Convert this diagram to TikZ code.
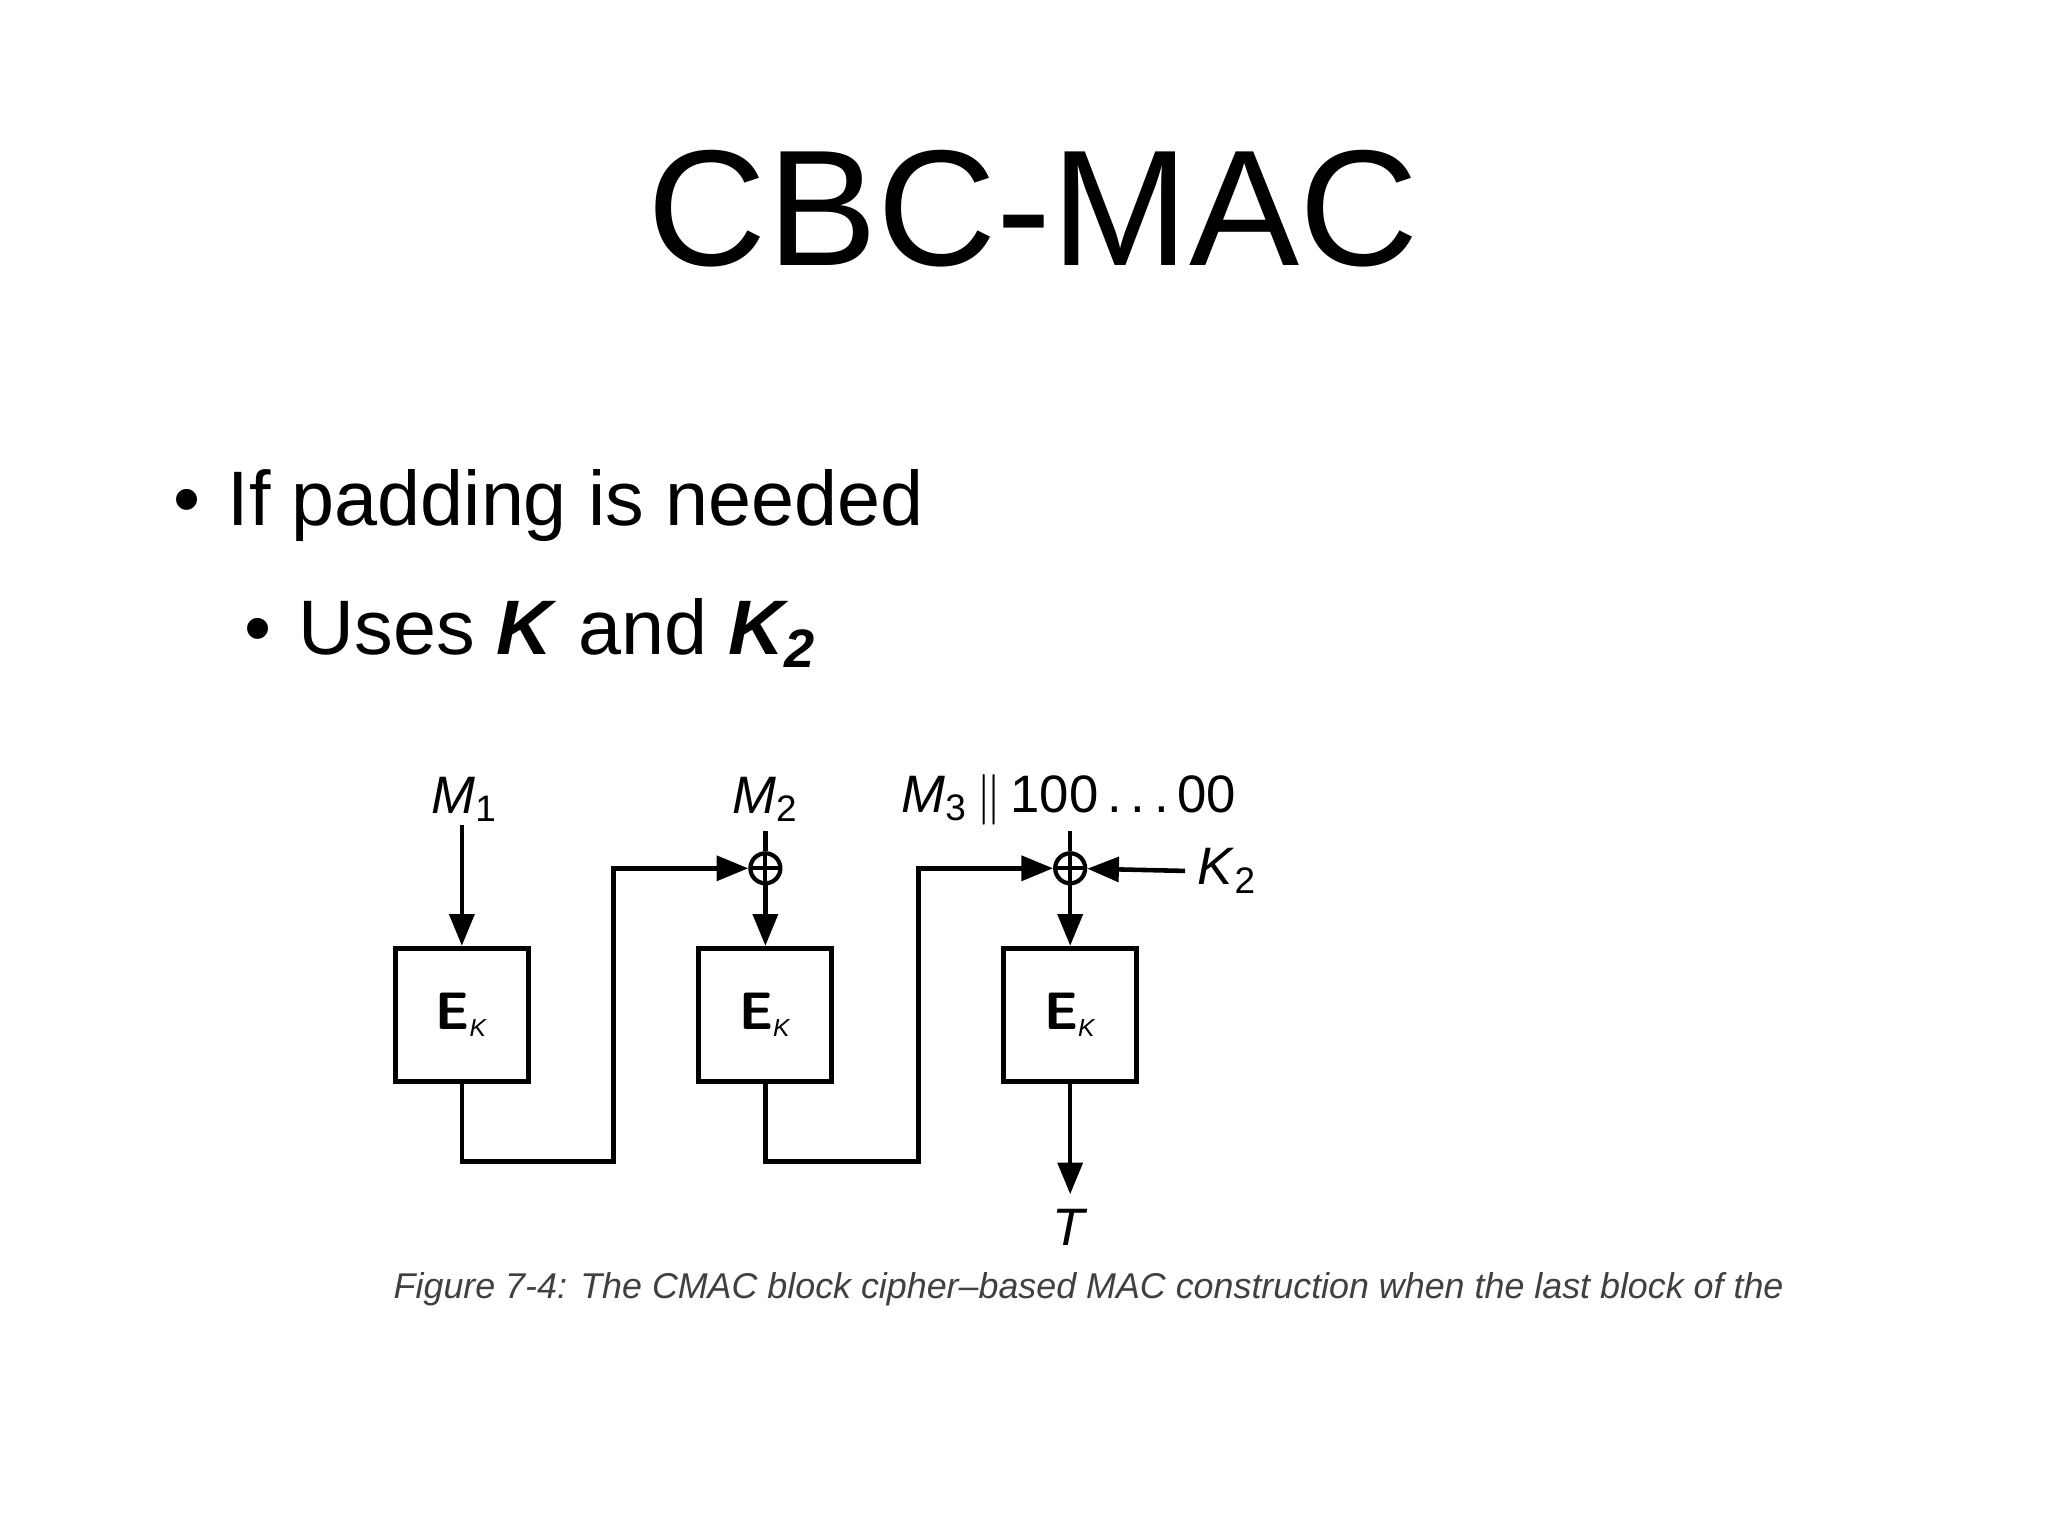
\documentclass[tikz,border=0pt]{standalone}
\usepackage{fontspec}
\setmainfont{Liberation Sans}
\usetikzlibrary{arrows.meta}
\begin{document}
\begin{tikzpicture}[x=0.013196cm,y=-0.013196cm,
  blk/.style={draw,line width=1.4pt,minimum size=1.33cm,inner sep=0pt,font=\sffamily\bfseries\fontsize{15}{15}\selectfont},
  ln/.style={line width=1.3pt},
  ar/.style={ln,-{Triangle[length=9pt,width=7pt]}},
  xo/.style={draw,circle,line width=1.2pt,minimum size=0.3cm,inner sep=0pt,path picture={\draw[line width=1.2pt] (path picture bounding box.north)--(path picture bounding box.south) (path picture bounding box.west)--(path picture bounding box.east);}},
  lab/.style={font=\fontsize{15}{15}\selectfont}]
\useasboundingbox (0,0) rectangle (1552,1164);
\node[font=\fontsize{47}{47}\selectfont] (title) at (783,158) {CBC-MAC};
\node[anchor=base west,font=\fontsize{22}{22}\selectfont] (b1) at (122,398) {\textbullet\hspace{0.35em}If padding is needed};
\node[anchor=base west,font=\fontsize{22}{22}\selectfont] (b2) at (176,496) {\textbullet\hspace{0.35em}Uses \textbf{\textit{K}} and \textbf{\textit{K\textsubscript{2}}}};
\node[blk] (e1) at (350,769) {E\textsubscript{\normalfont\itshape\scriptsize K}};
\node[blk] (e2) at (580,769) {E\textsubscript{\normalfont\itshape\scriptsize K}};
\node[blk] (e3) at (811,769) {E\textsubscript{\normalfont\itshape\scriptsize K}};
\node[lab] (m1) at (352,606) {\textit{M}\textsubscript{1}};
\node[lab] (m2) at (580,606) {\textit{M}\textsubscript{2}};
\node[lab] (m3) at (810,606) {\textit{M}\textsubscript{3}\,$\|$\,100\,.\,.\,.\,00};
\node[xo] (x2) at (580,658) {};
\node[xo] (x3) at (811,658) {};
\node[lab] (k2) at (930,660) {\textit{K}\textsubscript{2}};
\node[lab] (t) at (811,930) {\textit{T}};
\coordinate (o3) at (811,905);
\coordinate (i1) at (350,625);
\draw[ar] (i1) -- (e1);
\draw[ln] (x2.north) -- ++(0,-15);
\draw[ar] (x2) -- (e2);
\draw[ln] (x3.north) -- ++(0,-15);
\draw[ar] (x3) -- (e3);
\draw[ar] (k2.west) -- (x3);
\draw[ar] (e1.south) |- (465,880) |- (x2);
\draw[ar] (e2.south) |- (696,880) |- (x3);
\draw[ar] (e3) -- (o3);
\node[text=black!75,font=\itshape\fontsize{10.2}{11}\selectfont] (cap) at (825,977) {Figure 7-4: The CMAC block cipher–based MAC construction when the last block of the};
\end{tikzpicture}
\end{document}
